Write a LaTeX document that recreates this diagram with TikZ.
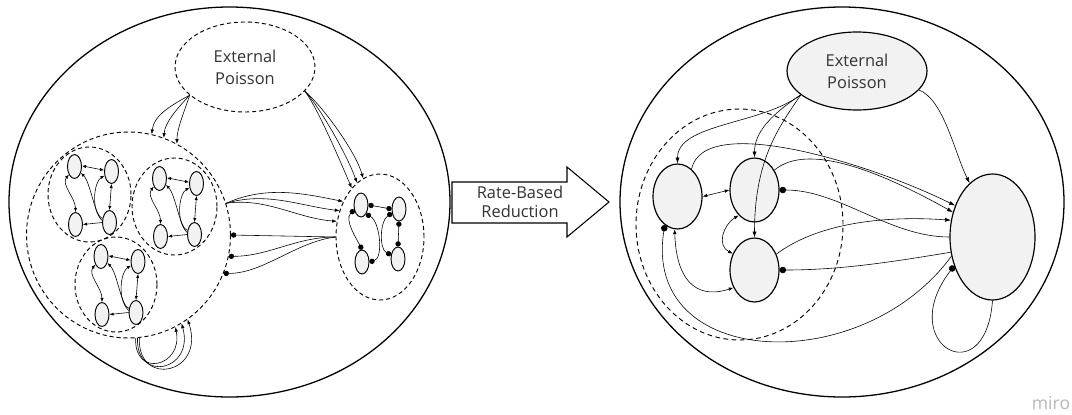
\documentclass[tikz,border=0pt]{standalone}
\usepackage{fontspec}
\setmainfont{Open Sans}
\usetikzlibrary{arrows.meta,shapes.geometric}
\newdimen\pxu \pxu=0.03cm
\definecolor{nodefill}{HTML}{F2F2F2}
\definecolor{txt}{HTML}{333333}
\tikzset{
  sz/.style 2 args={minimum width=#1*\pxu, minimum height=#2*\pxu},
  world/.style={draw, ellipse, line width=1.1pt, inner sep=0pt},
  dell/.style={draw, ellipse, line width=0.8pt, dash pattern=on 3.5pt off 2.5pt, inner sep=0pt},
  dellR/.style={draw, ellipse, line width=0.8pt, dash pattern=on 4pt off 3pt, inner sep=0pt},
  sn/.style={draw, ellipse, fill=nodefill, line width=0.8pt, inner sep=0pt, sz={14}{24}},
  bn/.style={draw, ellipse, fill=nodefill, line width=1pt, inner sep=0pt},
  eptext/.style={align=center, text=txt, font=\fontsize{14}{18.7}\selectfont},
  carr/.style={line width=0.5pt, -{Latex[length=3.5pt,width=2.8pt]}},
  cdbl/.style={line width=0.5pt, {Latex[length=3.5pt,width=2.8pt]}-{Latex[length=3.5pt,width=2.8pt]}},
  lconn/.style={line width=0.5pt, -{Latex[length=4pt,width=3pt]}},
  linh/.style={line width=0.5pt, -{Circle[length=4.5pt]}},
  cinh/.style={line width=0.5pt, {Circle[length=4.5pt]}-{Circle[length=4.5pt]}},
  rarr/.style={line width=0.5pt, -{Latex[length=5pt,width=3.5pt]}},
  rdbl/.style={line width=0.5pt, {Latex[length=4pt,width=3pt]}-{Latex[length=4pt,width=3pt]}},
  rinh/.style={line width=0.5pt, -{Circle[length=5.5pt]}},
}
\newcommand\mkcluster[3]{%
  \begin{scope}[shift={(#2,#3)}]
    \node[sn] (#1a) at (-15,-28) {};
    \node[sn] (#1b) at (22,-23) {};
    \node[sn] (#1c) at (-14,30) {};
    \node[sn] (#1d) at (20,28) {};
    \draw[cdbl] (#1a.5) -- (#1b.170);
    \draw[cdbl] (#1a.235) .. controls +(-8,10) and +(0,-14) .. (#1c.north);
    \draw[carr] (#1d.west) -- (#1c.east);
    \draw[cdbl] (#1b.south) -- (#1d.north);
    \draw[carr] (#1d.150) .. controls +(-8,-2) and +(10,10) .. (#1a.-45);
    \draw[carr] (#1d.165) .. controls +(-12,-12) and +(-10,6) .. (#1b.210);
  \end{scope}}
\begin{document}
\begin{tikzpicture}[x=0.03cm,y=-0.03cm]
\fill[white] (0,0) rectangle (1072,414);
\useasboundingbox (0,0) rectangle (1072,414);

% ---------------- left picture ----------------
\node[world, sz={441}{390}] (Lw) at (229.5,202) {};
\node[dell, sz={140}{90}, eptext] (LEP) at (245,67) {External\\Poisson};
\node[dell, sz={204}{206}] (BC) at (128.5,235) {};
\node[dell, sz={83}{95}] (C1) at (89.5,194.5) {};
\node[dell, sz={85}{97}] (C2) at (174.5,206.5) {};
\node[dell, sz={82}{95}] (C3) at (116,284.5) {};
\node[dell, sz={88}{126}] (RC) at (380,237) {};
\mkcluster{p}{89.5}{194.5}
\mkcluster{q}{174.5}{206.5}
\mkcluster{s}{116}{284.5}

\node[sn] (r1) at (361,205) {};
\node[sn] (r2) at (399,209) {};
\node[sn] (r3) at (362,262) {};
\node[sn] (r4) at (398,259) {};
\draw[cinh] (r1.east) -- (r2.west);
\draw[cinh] (r1.215) .. controls +(-10,10) and +(-5,-10) .. (r3.north);
\draw[cinh] (r1.-60) .. controls +(14,8) and +(14,-4) .. (r3.east);
\draw[cinh] (r4.150) .. controls +(-12,-6) and +(-12,8) .. (r2.210);
\draw[cinh] (r2.south) -- (r4.north);

% external poisson -> big cluster
\draw[lconn] (LEP.207) .. controls +(-22,12) and +(2,-18) .. (BC.77);
\draw[lconn] (LEP.207) .. controls +(-14,15) and +(1,-15) .. (BC.70);
\draw[lconn] (LEP.207) .. controls +(-6,18) and +(0,-15) .. (BC.62);
% external poisson -> right cluster
\draw[lconn] (LEP.-22) .. controls +(12,15) and +(-12,-28) .. (RC.120);
\draw[lconn] (LEP.-22) .. controls +(14,14) and +(-10,-28) .. (RC.113);
\draw[lconn] (LEP.-22) .. controls +(16,13) and +(-8,-28) .. (RC.106);
% big cluster -> right cluster
\draw[lconn] (BC.18) .. controls +(40,-18) and +(-40,-8) .. (RC.136);
\draw[lconn] (BC.18) .. controls +(40,-12) and +(-40,-5) .. (RC.147);
\draw[lconn] (BC.18) .. controls +(40,-6) and +(-40,-3) .. (RC.160);
% right cluster -| big cluster (inhibitory)
\draw[linh] (RC.west) -- (BC.0);
\draw[linh] (RC.west) .. controls +(-40,0) and +(40,0) .. (BC.-12);
\draw[linh] (RC.west) .. controls +(-40,5) and +(40,0) .. (BC.-22);
% self loops
\draw[lconn] (BC.-86) .. controls +(-2,40) and +(8,40) .. (BC.-63);
\draw[lconn] (BC.-85) .. controls +(-2,45) and +(13,48) .. (BC.-59);
\draw[lconn] (BC.-84) .. controls +(-2,50) and +(18,55) .. (BC.-55);

% ---------------- arrow ----------------
\draw[line width=0.9pt, fill=white] (452,182) -- (567,182) -- (567,167) -- (609,202) -- (567,237) -- (567,223) -- (452,223) -- cycle;
\node[align=center, text=txt, font=\fontsize{14}{16.2}\selectfont] (lbl) at (520,201.5) {Rate-Based\\Reduction};

% ---------------- right picture ----------------
\node[world, sz={444}{390}] (Rw) at (842,202) {};
\node[dellR, sz={207}{231}] (RDC) at (739.5,224.5) {};
\node[bn, sz={140}{78}, eptext] (REP) at (857,71) {External\\Poisson};
\node[bn, sz={49}{65}] (A) at (677.5,196.5) {};
\node[bn, sz={49}{64}] (B) at (754.5,190) {};
\node[bn, sz={49}{64}] (C) at (754.5,270) {};
\node[bn, sz={85}{126}] (D) at (992.5,237) {};

\draw[rarr] (REP.203) .. controls +(-40,30) and +(0,-40) .. (A.north);
\draw[rarr] (REP.203) .. controls +(-30,20) and +(0,-25) .. (B.north);
\draw[rarr] (REP.203) .. controls +(-20,30) and +(0,-80) .. (C.north);
\draw[rarr] (REP.-17) .. controls +(25,10) and +(-15,-30) .. (D.113);
\draw[rarr] (A.63) .. controls +(13,-58) and +(-80,-40) .. (D.140);
\draw[rarr] (B.45) .. controls +(33,-28) and +(-73,-41) .. (D.148);
\draw[rarr] (C.36) .. controls +(40,-30) and +(-70,-5) .. (D.158);
\draw[rinh] (D.west) .. controls +(-60,0) and +(60,0) .. (B.east);
\draw[rinh] (D.200) .. controls +(-60,10) and +(60,0) .. (C.east);
\draw[rinh] (D.205) .. controls +(-90,123) and +(-23,144) .. (A.246);
\draw[rinh] (D.south) .. controls +(-7,95) and +(-60,78) .. (D.217);
\draw[rdbl] (A.east) -- (B.west);
\draw[rdbl] (B.238) .. controls +(-16,10) and +(-16,-8) .. (C.143);
\draw[rdbl] (A.-95) .. controls +(2,60) and +(-30,10) .. (C.220);

\node[text=black!28, font=\fontsize{15}{16}\selectfont] (wm) at (1051,403) {miro};
\end{tikzpicture}
\end{document}
